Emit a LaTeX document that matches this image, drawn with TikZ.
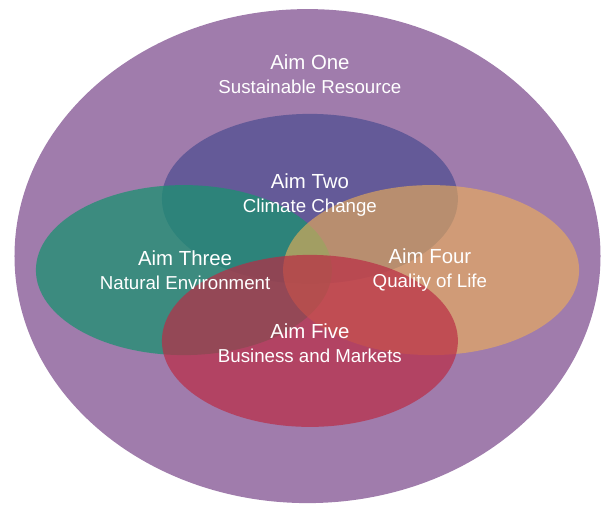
\documentclass[tikz,border=0pt]{standalone}
\usepackage{fontspec}
\setmainfont{Liberation Sans}
\usepackage{tikz}
\usetikzlibrary{shapes,positioning}
\definecolor{oneclr}{RGB}{160,124,172}
\definecolor{twoclr}{RGB}{86,82,147}
\definecolor{threeclr}{RGB}{27,145,113}
\definecolor{fourclr}{RGB}{240,177,85}
\definecolor{fiveclr}{RGB}{186,44,69}
\tikzstyle{aim} = [ellipse, minimum width=7.4cm, minimum height=4.25cm, inner sep=0pt]
\tikzstyle{aimtext} = [align=center, text=white, inner sep=0pt, font=\fontsize{13.3}{17}\selectfont]
\newcommand{\aimname}[2]{{\fontsize{14.5}{17}\selectfont #1}\\#2}

\begin{document}
\begin{tikzpicture}
    \useasboundingbox (-7.5375,-6.3125) rectangle (7.5375,6.3125);
    \node at (0.15,-0.09) [aim, fill=oneclr, minimum width=14.65cm, minimum height=12.35cm] (one) {};
    \node at (0.21,1.34) [aim, fill=twoclr, fill opacity=0.8] (two) {};
    \node at (-2.94,-0.44) [aim, fill=threeclr, fill opacity=0.75] (three) {};
    \node at (3.24,-0.44) [aim, fill=fourclr, fill opacity=0.6] (four) {};
    \node at (0.21,-2.21) [aim, fill=fiveclr, fill opacity=0.7, minimum height=4.3cm] (five) {};

    % names
    \node at (0.21,4.46) [aimtext] (onetxt) {\aimname{Aim One}{Sustainable Resource}};
    \node at (0.21,1.44) [aimtext] (twotxt) {\aimname{Aim Two}{Climate Change}};
    \node at (-2.91,-0.44) [aimtext] (threetxt) {\aimname{Aim Three}{Natural Environment}};
    \node at (3.21,-0.44) [aimtext] (fourtxt) {\aimname{Aim Four}{Quality of Life}};
    \node at (0.21,-2.26) [aimtext] (fivetxt) {\aimname{Aim Five}{Business and Markets}};
\end{tikzpicture}
\end{document}
